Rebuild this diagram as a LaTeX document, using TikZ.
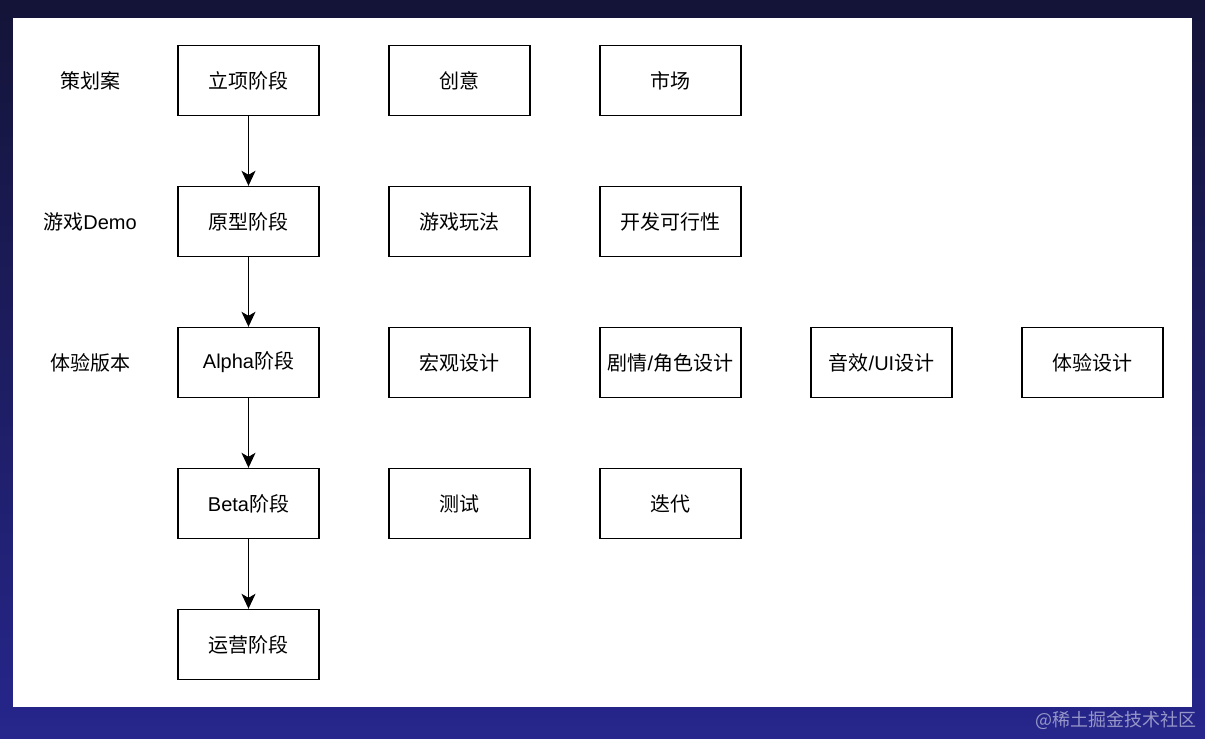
\documentclass[tikz,border=0pt]{standalone}
\usepackage{fontspec}
\setmainfont{Noto Sans CJK SC}
\newfontfamily\lat{Liberation Sans}
\usetikzlibrary{arrows.meta}
\definecolor{navytop}{RGB}{20,20,56}
\definecolor{navybot}{RGB}{38,38,140}
\definecolor{wmark}{RGB}{150,150,200}
\tikzset{
  stagebox/.style={draw=black, line width=1.4pt, fill=white, minimum width=141pt, minimum height=70pt, inner sep=0pt, font=\fontsize{20}{24}\selectfont},
  rowlabel/.style={inner sep=0pt, font=\fontsize{20}{24}\selectfont},
  flow/.style={draw=black, line width=1.4pt, -{Stealth[length=15pt,width=14pt,inset=4pt]}}
}
\begin{document}
\begin{tikzpicture}[x=1pt,y=-1pt]
\useasboundingbox (0,0) rectangle (1205,739);
\shade[top color=navytop, bottom color=navybot] (0,0) rectangle (1205,739);
\fill[white] (13,18) rectangle (1192,707);
% row labels
\node[rowlabel] (l1) at (90,81) {策划案};
\node[rowlabel] (l2) at (90,222) {游戏{\lat Demo}};
\node[rowlabel] (l3) at (90,363) {体验版本};
% column 1
\node[stagebox] (s1) at (248.5,80.5) {立项阶段};
\node[stagebox] (s2) at (248.5,221.5) {原型阶段};
\node[stagebox] (s3) at (248.5,362.5) {{\lat Alpha}阶段};
\node[stagebox] (s4) at (248.5,503.5) {{\lat Beta}阶段};
\node[stagebox] (s5) at (248.5,644.5) {运营阶段};
% other boxes
\node[stagebox] (c1) at (459.5,80.5) {创意};
\node[stagebox] (m1) at (670.5,80.5) {市场};
\node[stagebox] (c2) at (459.5,221.5) {游戏玩法};
\node[stagebox] (m2) at (670.5,221.5) {开发可行性};
\node[stagebox] (c3) at (459.5,362.5) {宏观设计};
\node[stagebox] (m3) at (670.5,362.5) {剧情{\lat /}角色设计};
\node[stagebox] (a3) at (881.5,362.5) {音效{\lat /UI}设计};
\node[stagebox] (e3) at (1092.5,362.5) {体验设计};
\node[stagebox] (c4) at (459.5,503.5) {测试};
\node[stagebox] (m4) at (670.5,503.5) {迭代};
% arrows
\draw[flow] (s1) -- (s2);
\draw[flow] (s2) -- (s3);
\draw[flow] (s3) -- (s4);
\draw[flow] (s4) -- (s5);
% watermark
\node[inner sep=0pt, anchor=east, text=wmark, font=\fontsize{18}{20}\selectfont] (wm) at (1197,720) {@稀土掘金技术社区};
\end{tikzpicture}
\end{document}
